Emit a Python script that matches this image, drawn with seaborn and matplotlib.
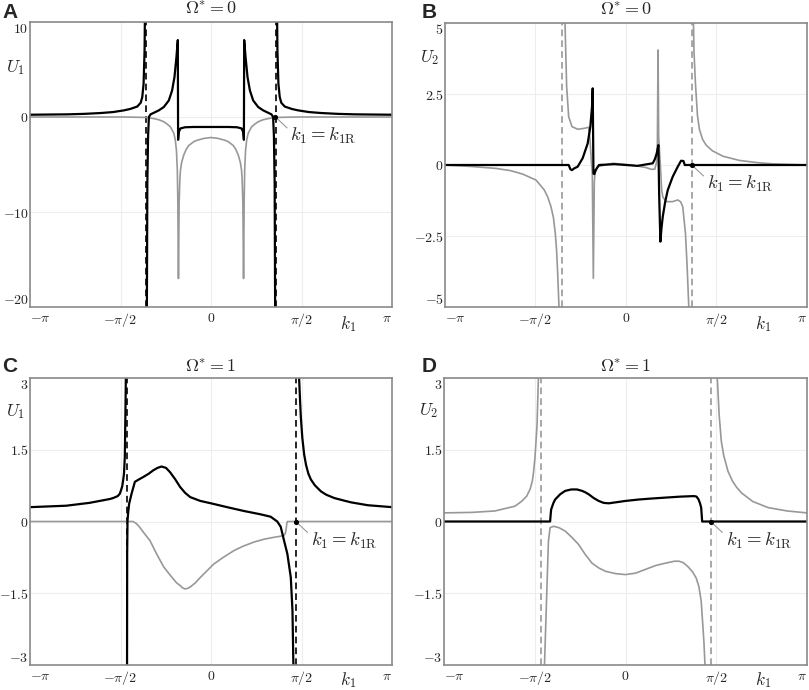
import numpy as np
import pandas as pd
import matplotlib
matplotlib.use("Agg")
import matplotlib.pyplot as plt
import seaborn as sns

sns.set_style("white")
plt.rcParams["font.family"] = ["DejaVu Sans"]
plt.rcParams["mathtext.fontset"] = "cm"

PI = np.pi

# ---------------- Panel A (Omega*=0, U1) ----------------
kA_bl_left = [-3.1416, -2.8, -2.49, -2.2, -1.91, -1.7, -1.51, -1.4, -1.28, -1.22, -1.193, -1.17, -1.153, -1.145, -1.138]
UA_bl_left = [0.24, 0.26, 0.28, 0.33, 0.42, 0.52, 0.70, 0.85, 1.10, 1.50, 2.10, 3.50, 7.0, 12.0, 25.0]
kA_bl_mid = [-1.116, -1.105, -1.092, -1.078, -1.049, -0.99, -0.905, -0.819, -0.732, -0.675, -0.634, -0.600, -0.576,
             -0.571, -0.560, -0.530, -0.45, -0.3, 0.0, 0.3, 0.45, 0.530, 0.560, 0.571,
             0.576, 0.600, 0.634, 0.675, 0.732, 0.819, 0.905, 0.99, 1.049, 1.078, 1.092, 1.105, 1.116]
UA_bl_mid = [-25.0, -7.0, -2.0, 0.0, 0.28, 0.45, 0.70, 1.05, 1.74, 2.8, 4.2, 6.3, 8.1,
             -2.4, -1.6, -1.2, -1.08, -1.05, -1.05, -1.05, -1.08, -1.2, -1.6, -2.4,
             8.1, 6.3, 4.2, 2.8, 1.74, 1.05, 0.70, 0.45, 0.28, 0.0, -2.0, -7.0, -25.0]
kA_bl_right = [1.138, 1.145, 1.153, 1.17, 1.193, 1.22, 1.28, 1.4, 1.51, 1.7, 1.91, 2.2, 2.49, 2.8, 3.1416]
UA_bl_right = [25.0, 12.0, 7.0, 3.5, 2.1, 1.5, 1.1, 0.85, 0.70, 0.52, 0.42, 0.33, 0.28, 0.26, 0.24]
kA_gr = [-3.1416, -1.5, -1.107, -0.99, -0.90, -0.819, -0.76, -0.703, -0.646, -0.620, -0.600, -0.585, -0.576, -0.565,
         -0.553, -0.540, -0.530, -0.51, -0.473, -0.43, -0.386, -0.30, -0.242, -0.12, 0.0, 0.12, 0.242, 0.30, 0.386,
         0.43, 0.473, 0.51, 0.530, 0.540, 0.553, 0.565, 0.576, 0.585, 0.600, 0.620, 0.646, 0.703, 0.76, 0.819, 0.90,
         0.99, 1.107, 1.5, 3.1416]
UA_gr = [0.0, 0.0, -0.05, -0.17, -0.3, -0.5, -0.75, -1.05, -1.7, -2.4, -3.5, -5.5, -8.7, -17.0,
         -9.0, -6.5, -5.6, -4.8, -4.0, -3.4, -3.0, -2.6, -2.45, -2.25, -2.16, -2.25, -2.45, -2.6, -3.0,
         -3.4, -4.0, -4.8, -5.6, -6.5, -9.0, -17.0, -8.7, -5.5, -3.5, -2.4, -1.7, -1.05, -0.75, -0.5, -0.3,
         -0.17, -0.05, 0.0, 0.0]
asym_A = [-1.124, 1.124]
k1R_A = 1.118

# ---------------- Panel B (Omega*=0, U2) ----------------
kB_gr_left = [-3.1416, -2.7, -2.257, -2.0, -1.793, -1.562, -1.418, -1.36, -1.302, -1.26, -1.227, -1.205, -1.186,
              -1.163, -1.155]
UB_gr_left = [0.0, -0.05, -0.12, -0.2, -0.32, -0.53, -0.88, -1.12, -1.47, -1.85, -2.41, -3.0, -3.81,
              -5.0, -6.0]
kB_gr_mid = [-1.065, -1.059, -1.03, -0.995, -0.937, -0.839, -0.724, -0.648, -0.625, -0.600, -0.585, -0.567, -0.55,
             -0.538, -0.492, -0.231, 0.1, 0.347, 0.435, 0.50, 0.530, 0.545, 0.556, 0.567, 0.591, 0.62, 0.638,
             0.696, 0.811, 0.898, 0.95, 0.985, 1.032, 1.061, 1.090, 1.10]
UB_gr_mid = [6.0, 5.0, 2.76, 1.70, 1.35, 1.26, 1.29, 1.33, 0.9, 0.1, -0.3, -3.99, -0.6,
             -0.29, -0.06, 0.06, 0.0, -0.09, -0.15, -0.15, 0.1, 0.8, 4.05, 1.0, 0.18, -0.9, -1.12,
             -1.29, -1.29, -1.23, -1.3, -1.47, -2.4, -3.58, -5.0, -6.0]
kB_gr_right = [1.165, 1.171, 1.18, 1.205, 1.24, 1.275, 1.33, 1.391, 1.5, 1.681, 1.971, 2.3, 2.55, 3.1416]
UB_gr_right = [6.5, 5.0, 4.0, 2.88, 1.75, 1.25, 0.9, 0.7, 0.5, 0.31, 0.16, 0.08, 0.04, 0.0]
kB_bl = [-3.1416, -0.995, -0.965, -0.937, -0.90, -0.839, -0.752, -0.665, -0.619, -0.59, -0.578, -0.565, -0.55,
         -0.527, -0.469, -0.2, 0.2, 0.464, 0.50, 0.533, 0.562, 0.575, 0.597, 0.617, 0.638, 0.68, 0.725, 0.811,
         0.898, 0.956, 0.997, 1.020, 3.1416]
UB_bl = [0.0, 0.0, -0.15, -0.18, -0.12, -0.06, 0.24, 0.76, 1.35, 2.05, 2.7, -0.3, -0.32,
         -0.18, 0.0, 0.03, -0.03, 0.06, 0.2, 0.41, 0.7, -1.0, -2.7, -2.2, -1.82, -1.3, -0.88, -0.41,
         -0.06, 0.15, 0.14, 0.0, 0.0]
asym_B = [-1.117, 1.142]
k1R_B = 1.142

# ---------------- Panel C (Omega*=1, U1) ----------------
kC_bl_left = [-3.1416, -2.513, -2.107, -1.932, -1.757, -1.70, -1.62, -1.583, -1.56, -1.54, -1.525, -1.51, -1.496,
              -1.484, -1.478, -1.472]
UC_bl_left = [0.30, 0.33, 0.39, 0.43, 0.47, 0.49, 0.53, 0.58, 0.66, 0.74, 0.86, 1.0, 1.35,
              2.4, 3.0, 4.0]
kC_bl_mid = [-1.458, -1.455, -1.449, -1.435, -1.421, -1.379, -1.321, -1.25, -1.176, -1.08, -1.002, -0.93, -0.857,
             -0.78, -0.71, -0.62, -0.535, -0.45, -0.361, -0.186, 0.0, 0.279, 0.570, 0.861, 1.035, 1.15, 1.21,
             1.268, 1.326, 1.385, 1.414, 1.437]
UC_bl_mid = [-4.0, -0.68, 0.02, 0.22, 0.37, 0.58, 0.83, 0.88, 0.93, 1.0, 1.07, 1.12, 1.15,
             1.12, 1.03, 0.88, 0.72, 0.60, 0.51, 0.43, 0.38, 0.30, 0.22, 0.15, 0.10, 0.0, -0.11,
             -0.40, -0.68, -1.17, -1.86, -3.5]
kC_bl_right = [1.50, 1.529, 1.545, 1.559, 1.585, 1.617, 1.65, 1.69, 1.733, 1.80, 1.908, 2.0, 2.141, 2.3, 2.431,
               2.723, 3.1416]
UC_bl_right = [5.0, 3.0, 2.55, 2.19, 1.75, 1.40, 1.18, 1.0, 0.88, 0.76, 0.63, 0.56, 0.49, 0.44, 0.40,
               0.34, 0.30]
kC_gr = [-3.1416, -1.352, -1.30, -1.25, -1.176, -1.059, -0.943, -0.82, -0.710, -0.60, -0.535, -0.49, -0.448, -0.41,
         -0.361, -0.27, -0.186, 0.047, 0.20, 0.396, 0.55, 0.745, 0.92, 1.094, 1.20, 1.268, 1.29, 1.305, 1.315,
         1.326, 3.1416]
UC_gr = [0.0, 0.0, -0.04, -0.1, -0.22, -0.40, -0.68, -0.95, -1.12, -1.28, -1.34, -1.39, -1.41, -1.40,
         -1.37, -1.28, -1.17, -0.89, -0.76, -0.61, -0.52, -0.43, -0.37, -0.33, -0.31, -0.29, -0.25, -0.15, -0.05,
         0.0, 0.0]
asym_C = [-1.466, 1.471]
k1R_C = 1.471

# ---------------- Panel D (Omega*=1, U2) ----------------
kD_gu_left = [-3.1416, -2.666, -2.261, -1.913, -1.80, -1.710, -1.65, -1.612, -1.59, -1.566, -1.55, -1.531, -1.508,
              -1.495]
UD_gu_left = [0.18, 0.19, 0.22, 0.32, 0.42, 0.53, 0.68, 0.85, 1.05, 1.35, 1.65, 2.03, 3.0, 4.0]
kD_gu_right = [1.575, 1.589, 1.62, 1.658, 1.70, 1.774, 1.85, 1.92, 2.006, 2.2, 2.47, 2.8, 3.1416]
UD_gu_right = [4.0, 3.0, 2.25, 1.68, 1.38, 1.05, 0.85, 0.72, 0.60, 0.42, 0.29, 0.22, 0.18]
kD_gl = [-1.41, -1.362, -1.334, -1.305, -1.247, -1.15, -1.044, -0.93, -0.812, -0.696, -0.58, -0.464, -0.348,
         -0.17, 0.0, 0.174, 0.348, 0.522, 0.696, 0.85, 0.927, 1.00, 1.078, 1.159, 1.223, 1.27, 1.31, 1.357, 1.38]
UD_gl = [-3.3, -1.46, -0.41, -0.13, -0.10, -0.13, -0.2, -0.33, -0.48, -0.69, -0.87, -0.97, -1.04,
         -1.09, -1.11, -1.08, -1.0, -0.92, -0.87, -0.83, -0.83, -0.86, -0.94, -1.05, -1.18, -1.36, -1.66, -2.51, -3.1]
kD_bl = [-3.1416, -1.305, -1.295, -1.287, -1.25, -1.218, -1.13, -1.044, -0.94, -0.84, -0.75, -0.696, -0.638,
         -0.55, -0.464, -0.38, -0.29, -0.116, 0.0, 0.232, 0.45, 0.696, 0.95, 1.159, 1.195, 1.23, 1.265, 1.29,
         1.31, 1.327, 3.1416]
UD_bl = [0.0, 0.0, 0.15, 0.25, 0.38, 0.46, 0.57, 0.64, 0.67, 0.67, 0.64, 0.61, 0.57,
         0.49, 0.43, 0.39, 0.38, 0.41, 0.43, 0.46, 0.48, 0.50, 0.52, 0.53, 0.53, 0.52, 0.46, 0.38,
         0.29, 0.0, 0.0]
asym_D = [-1.461, 1.473]
k1R_D = 1.473

x_ticks = [-PI, -PI / 2, 0, PI / 2, PI]
x_ticklabels = [r"$-\pi$", r"$-\pi/2$", r"$0$", r"$\pi/2$", r"$\pi$"]
yticks_A = [-20, -10, 0, 10]
yticks_B = [-5, -2.5, 0, 2.5, 5]
yticks_CD = [-3, -1.5, 0, 1.5, 3]

GREY = "#989898"
FRAME = "#8a8a8a"


def draw(ax, branches, color, lw):
    frames = []
    for i, (k, u) in enumerate(branches):
        frames.append(pd.DataFrame({"k": k, "U": u, "branch": i}))
    df = pd.concat(frames, ignore_index=True)
    sns.lineplot(data=df, x="k", y="U", units="branch", estimator=None, sort=False,
                 color=color, lw=lw, ax=ax)


def style(ax, yticks, ylabel, title, ylab_y, letter, asym, asym_color, k1R, title_pad, k1_y):
    ax.set_xlim(-PI, PI)
    ax.set_ylim(yticks[0], yticks[-1])
    ax.set_xticks(x_ticks)
    ax.set_xticklabels(x_ticklabels)
    ax.set_yticks(yticks)
    ax.set_yticklabels([r"$%g$" % v for v in yticks])
    ax.tick_params(direction="in", length=3, width=0.8, color=FRAME, labelsize=10)
    ax.tick_params(axis="y", pad=1)
    ax.tick_params(axis="x", pad=3)
    xl = ax.get_xticklabels()
    xl[0].set_horizontalalignment("left")
    xl[-1].set_horizontalalignment("right")
    yl = ax.get_yticklabels()
    yl[0].set_verticalalignment("bottom")
    yl[-1].set_verticalalignment("top")
    ax.grid(True, color="#ededed", lw=0.8)
    ax.set_axisbelow(True)
    for s in ax.spines.values():
        s.set_color(FRAME)
        s.set_linewidth(1.2)
    ax.set_xlabel("")
    ax.set_ylabel("")
    for k in asym:
        ax.axvline(k, color=asym_color, lw=1.2, ls=(0, (4, 2.5)), zorder=1.5)
    ax.set_title(title, fontsize=13, pad=title_pad)
    ax.text(-0.041, ylab_y, ylabel, transform=ax.transAxes, fontsize=12.5, ha="center", va="center")
    ax.text(0.878, k1_y, r"$k_1$", transform=ax.transAxes, fontsize=12.5, ha="center", va="center")
    sns.scatterplot(x=[k1R], y=[0.0], color="black", s=14, ax=ax, zorder=6, edgecolor="black", linewidth=0)
    ax.annotate(r"$k_1 = k_{1\mathrm{R}}$", xy=(k1R, 0.0), xytext=(15, -19), textcoords="offset pixels",
                ha="left", va="center", fontsize=13.5,
                arrowprops=dict(arrowstyle="-", color=GREY, lw=0.8, shrinkA=0, shrinkB=0, relpos=(0.0, 0.75)))
    ax.figure.text(*letter[1:], letter[0], fontsize=15, fontweight="bold", family="Liberation Sans",
                   ha="left", va="baseline")


W, H = 809, 690
fig = plt.figure(figsize=(W / 100, H / 100), dpi=100)

def add_ax(l, t, r, b):
    return fig.add_axes([l / W, 1 - b / H, (r - l) / W, (b - t) / H])

axA = add_ax(30, 22, 392, 307)
axB = add_ax(445, 23, 807, 307)
axC = add_ax(30, 378, 392, 665)
axD = add_ax(444, 378, 807, 665)

# A
draw(axA, [(kA_gr, UA_gr)], GREY, 1.2)
draw(axA, [(kA_bl_left, UA_bl_left), (kA_bl_mid, UA_bl_mid), (kA_bl_right, UA_bl_right)], "black", 1.6)
style(axA, yticks_A, r"$U_1$", r"$\Omega^{*} = 0$", 0.839, ("A", 2 / W, 1 - 18 / H), asym_A, "black", k1R_A, 5, -0.06)

# B
draw(axB, [(kB_gr_left, UB_gr_left), (kB_gr_mid, UB_gr_mid), (kB_gr_right, UB_gr_right)], GREY, 1.2)
draw(axB, [(kB_bl, UB_bl)], "black", 1.6)
style(axB, yticks_B, r"$U_2$", r"$\Omega^{*} = 0$", 0.877, ("B", 422 / W, 1 - 18 / H), asym_B, GREY, k1R_B, 5, -0.06)

# C
draw(axC, [(kC_gr, UC_gr)], GREY, 1.2)
draw(axC, [(kC_bl_left, UC_bl_left), (kC_bl_mid, UC_bl_mid), (kC_bl_right, UC_bl_right)], "black", 1.6)
style(axC, yticks_CD, r"$U_1$", r"$\Omega^{*} = 1$", 0.882, ("C", 2 / W, 1 - 372 / H), asym_C, "black", k1R_C, 4, -0.053)

# D
draw(axD, [(kD_gu_left, UD_gu_left), (kD_gl, UD_gl), (kD_gu_right, UD_gu_right)], GREY, 1.2)
draw(axD, [(kD_bl, UD_bl)], "black", 1.6)
style(axD, yticks_CD, r"$U_2$", r"$\Omega^{*} = 1$", 0.885, ("D", 422 / W, 1 - 372 / H), asym_D, GREY, k1R_D, 4, -0.053)

fig.savefig("out.png", dpi=100)
